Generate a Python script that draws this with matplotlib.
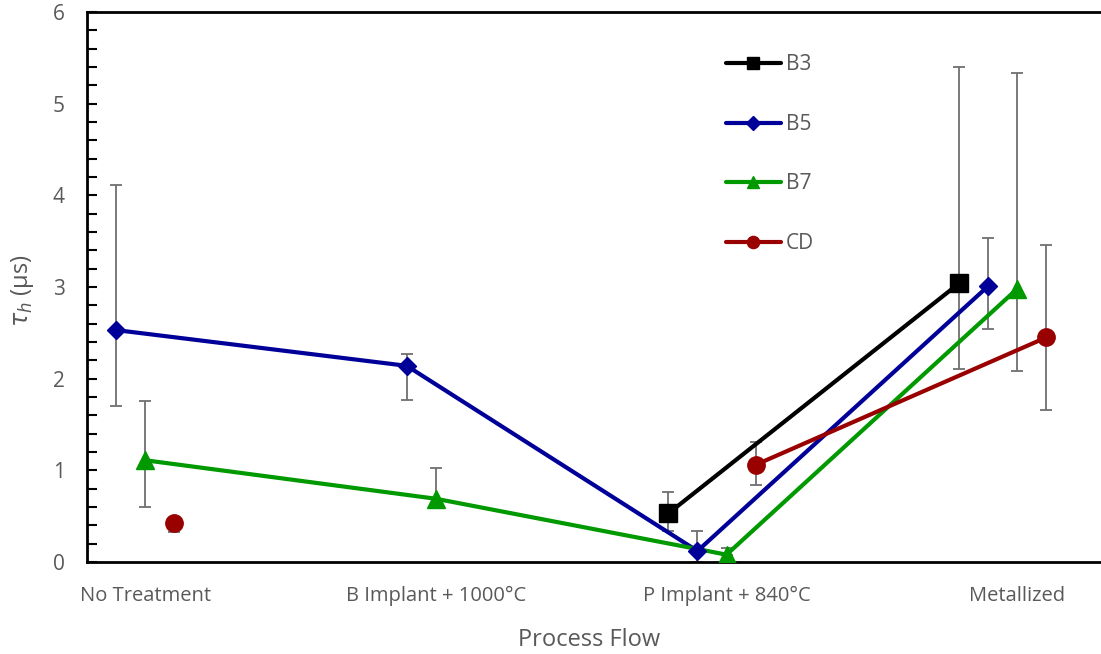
import numpy as np
import matplotlib
matplotlib.use("Agg")
import matplotlib.pyplot as plt
from matplotlib.ticker import MultipleLocator

plt.rcParams['font.family'] = ['Open Sans', 'DejaVu Sans']
plt.rcParams['mathtext.fontset'] = 'dejavusans'

# ---- data ----
categories = ["No Treatment", "B Implant + 1000°C", "P Implant + 840°C", "Metallized"]
series_names = ["B3", "B5", "B7", "CD"]

b3 = [np.nan, np.nan, 0.53, 3.04]
b3_err_lo = [np.nan, np.nan, 0.19, 0.93]
b3_err_hi = [np.nan, np.nan, 0.23, 2.36]

b5 = [2.53, 2.14, 0.12, 3.01]
b5_err_lo = [0.83, 0.37, 0.12, 0.47]
b5_err_hi = [1.58, 0.13, 0.22, 0.53]

b7 = [1.11, 0.69, 0.08, 2.98]
b7_err_lo = [0.51, 0.0, 0.0, 0.90]
b7_err_hi = [0.65, 0.34, 0.07, 2.35]

cd = [0.43, np.nan, 1.06, 2.45]
cd_err_lo = [0.10, np.nan, 0.22, 0.79]
cd_err_hi = [0.05, np.nan, 0.25, 1.01]

y_ticks = [0, 1, 2, 3, 4, 5, 6]

# ---- styling ----
styles = {
    "B3": dict(color="#000000", marker="s", ms=13, offset=-0.2),
    "B5": dict(color="#000099", marker="D", ms=9.5, offset=-0.1),
    "B7": dict(color="#009900", marker="^", ms=13, offset=0.0),
    "CD": dict(color="#990000", marker="o", ms=12.5, offset=0.1),
}
data = {
    "B3": (b3, b3_err_lo, b3_err_hi),
    "B5": (b5, b5_err_lo, b5_err_hi),
    "B7": (b7, b7_err_lo, b7_err_hi),
    "CD": (cd, cd_err_lo, cd_err_hi),
}

W, H = 1101, 654
fig = plt.figure(figsize=(W / 100, H / 100), dpi=100)
left = 87 / W
bottom = 1 - 562 / H
height = (562 - 12) / H
xmin, xmax = 0.8, 4.4
px_per_unit = 290.7
width = (xmax - xmin) * px_per_unit / W
ax = fig.add_axes([left, bottom, width, height])

cat_x = np.arange(1, len(categories) + 1)
gray_err = "#6f6f6f"

handles = []
for name in series_names:
    vals, lo, hi = data[name]
    st = styles[name]
    xs = cat_x + st["offset"]
    vals = np.array(vals, dtype=float)
    yerr = np.array([lo, hi], dtype=float)
    ax.errorbar(xs, vals, yerr=yerr, fmt="none", ecolor=gray_err,
                elinewidth=1.3, capsize=4.2, capthick=1.3, zorder=2)
    ax.plot(xs, vals, color=st["color"], lw=3.0, zorder=3, solid_capstyle="round")
    ax.plot(xs, vals, linestyle="none", marker=st["marker"], ms=st["ms"],
            color=st["color"], mec=st["color"], zorder=4)
    h, = ax.plot([], [], color=st["color"], lw=3.0, marker=st["marker"],
                 ms=st["ms"] * 0.7, solid_capstyle="round")
    handles.append(h)

ax.set_xlim(xmin, xmax)
ax.set_ylim(0, 6)
ax.set_xticks(cat_x)
ax.set_xticklabels(categories)
ax.set_yticks(y_ticks)
ax.yaxis.set_minor_locator(MultipleLocator(0.2))

label_color = "#595959"
ax.tick_params(axis="x", length=0, pad=17, labelsize=14.5, labelcolor=label_color)
ax.tick_params(axis="y", which="both", direction="in", length=7, width=1.5,
               pad=16, labelsize=15, labelcolor=label_color)
for sp in ax.spines.values():
    sp.set_linewidth(2.0)
    sp.set_color("#000000")

ax.set_xlabel("Process Flow", fontsize=17, color=label_color)
ax.xaxis.label.set_va("center")
ax.xaxis.set_label_coords((589 - 87) / (width * W), -(640 - 562) / (562 - 12))
fig.text(22 / W, 1 - 291 / H, r"$\tau_h$ (μs)", rotation=90, ha="center", va="center",
         fontsize=17, color=label_color)

leg = ax.legend(handles, series_names, loc="upper left",
                bbox_to_anchor=(718 / W, 1 - 46 / H), bbox_transform=fig.transFigure,
                frameon=False, fontsize=15, handlelength=2.6, handletextpad=0.25,
                labelspacing=1.85, borderaxespad=0)
for t in leg.get_texts():
    t.set_color(label_color)

fig.savefig("out.png", dpi=100)
